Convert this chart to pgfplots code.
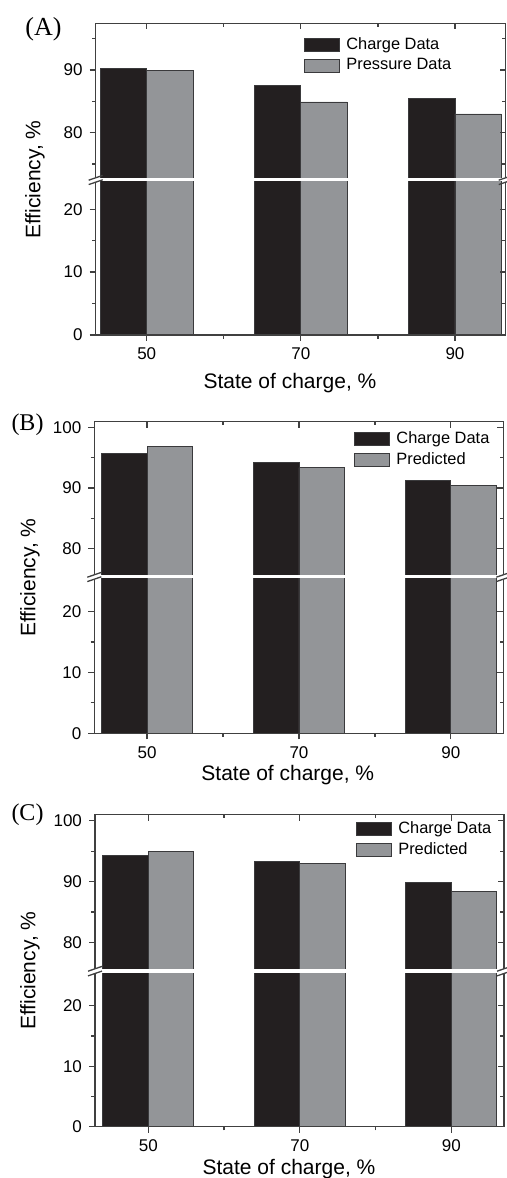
\documentclass[border=0pt]{standalone}
\usepackage{fontspec}
\setmainfont{Liberation Sans}
\newfontfamily\timesf{Liberation Serif}
\usepackage{pgfplots}
\usepackage{pgfplotstable}
\pgfplotsset{compat=1.18}

\definecolor{barblack}{HTML}{231F20}
\definecolor{bargray}{HTML}{939598}
\definecolor{edge}{HTML}{3A3A3C}
\definecolor{axisc}{HTML}{404040}

\pgfplotstableread{
x charge other
50 90.2 89.9
70 87.5 84.9
90 85.5 83.0
}\dataA
\pgfplotstableread{
x charge other
50 95.7 96.9
70 94.3 93.4
90 91.3 90.5
}\dataB
\pgfplotstableread{
x charge other
50 94.3 95.0
70 93.3 93.0
90 89.8 88.3
}\dataC

\tikzset{spine/.style={axisc, line width=0.65pt}}
\pgfplotsset{
  seg/.style={scale only axis, anchor=south west, axis line style={draw=none},
    clip mode=individual,
    tick style={axisc, line width=0.6pt}, major tick length=3pt, minor tick length=1.8pt,
    ticklabel style={font=\fontsize{8.5}{10}\selectfont},
    /pgf/number format/assume math mode=true},
  xt/.style={xtick={50,70,90}, minor xtick={60,80}},
  noxt/.style={xtick=\empty},
  mainseg/.style={seg, tick align=outside, ytick pos=left, xtick pos=bottom},
  overseg/.style={seg, tick align=inside, ytick pos=right, xtick pos=top,
    yticklabels={}, xticklabels={}},
  cbar/.style={ybar, bar width=6, bar shift=-3, fill=barblack, draw=edge, line width=0.4pt,
    legend image code/.code={\draw[##1] (0pt,-3.25pt) rectangle (17.5pt,3.25pt);}},
  obar/.style={ybar, bar width=6, bar shift=3, fill=bargray, draw=edge, line width=0.4pt,
    legend image code/.code={\draw[##1] (0pt,-3.25pt) rectangle (17.5pt,3.25pt);}},
  leg/.style={legend style={anchor=north west, draw=none, fill=none, inner sep=0pt,
    font=\fontsize{8.2}{9.6}\selectfont, row sep=0.6pt, column sep=1.8pt,
    nodes={inner sep=1.3pt}},
    legend cell align=left},
  panA/.style={width=205pt, xmin=43.38, xmax=96.58},
  panB/.style={width=204.5pt, xmin=43.06, xmax=96.9},
  panC/.style={width=204.5pt, xmin=42.96, xmax=96.96},
  upA/.style={height=77.25pt, ymin=72.78, ymax=97.42, ytick={80,90}, minor ytick={75,85,95}},
  loA/.style={height=76.5pt, ymin=0, ymax=24.32, ytick={0,10,20}, minor ytick={5,15}},
  upBC/.style={ymin=75.62, ymax=100.99, ytick={80,90,100}, minor ytick={85,95}},
  loBC/.style={ymin=0, ymax=25.37, ytick={0,10,20}, minor ytick={5,15}},
}

\newcommand\upperspine{%
  \draw[spine] (rel axis cs:0,0) -- (rel axis cs:0,1) -- (rel axis cs:1,1) -- (rel axis cs:1,0);
  \draw[spine] ([shift={(-3.5pt,-1.1pt)}]rel axis cs:0,0) -- ([shift={(3.5pt,1.3pt)}]rel axis cs:0,0);
  \draw[spine] ([shift={(-3.5pt,-1.1pt)}]rel axis cs:1,0) -- ([shift={(3.5pt,1.3pt)}]rel axis cs:1,0);}
\newcommand\lowerspine{%
  \draw[spine] (rel axis cs:0,1) -- (rel axis cs:0,0) -- (rel axis cs:1,0) -- (rel axis cs:1,1);
  \draw[spine] ([shift={(-3.5pt,-1.3pt)}]rel axis cs:0,1) -- ([shift={(3.5pt,1.1pt)}]rel axis cs:0,1);
  \draw[spine] ([shift={(-3.5pt,-1.3pt)}]rel axis cs:1,1) -- ([shift={(3.5pt,1.1pt)}]rel axis cs:1,1);}

\begin{document}
\begin{tikzpicture}
\useasboundingbox (0,0) rectangle (253.5pt,589pt);

% ---------------- Panel A ----------------
\begin{axis}[mainseg, panA, upA, noxt, at={(47.85pt,500pt)}, leg,
  legend style={at={(0.508,0.93)}}]
\addplot[cbar] table[x=x,y=charge]{\dataA}; \addlegendentry{Charge Data}
\addplot[obar] table[x=x,y=other]{\dataA}; \addlegendentry{Pressure Data}
\upperspine
\end{axis}
\begin{axis}[overseg, panA, upA, xt, at={(47.85pt,500pt)}]
\end{axis}
\begin{axis}[mainseg, panA, loA, xt, at={(47.85pt,421.5pt)}]
\addplot[cbar] table[x=x,y=charge]{\dataA};
\addplot[obar] table[x=x,y=other]{\dataA};
\lowerspine
\end{axis}
\begin{axis}[overseg, panA, loA, noxt, at={(47.85pt,421.5pt)}]
\end{axis}
\node[font=\timesf\fontsize{13}{15}\selectfont] at (21.75pt,574.5pt) {(A)};
\node[rotate=90, font=\fontsize{10.5}{12}\selectfont] at (17.5pt,499.25pt) {Efficiency, \%};
\node[anchor=base, font=\fontsize{10.5}{12}\selectfont] at (145pt,394.85pt) {State of charge, \%};

% ---------------- Panel B ----------------
\begin{axis}[mainseg, panB, upBC, height=76.65pt, noxt, at={(47.15pt,301.5pt)}, leg,
  legend style={at={(0.635,0.955)}}]
\addplot[cbar] table[x=x,y=charge]{\dataB}; \addlegendentry{Charge Data}
\addplot[obar] table[x=x,y=other]{\dataB}; \addlegendentry{Predicted}
\upperspine
\end{axis}
\begin{axis}[overseg, panB, upBC, height=76.65pt, xt, at={(47.15pt,301.5pt)}]
\end{axis}
\begin{axis}[mainseg, panB, loBC, height=77.15pt, xt, at={(47.15pt,222.35pt)}]
\addplot[cbar] table[x=x,y=charge]{\dataB};
\addplot[obar] table[x=x,y=other]{\dataB};
\lowerspine
\end{axis}
\begin{axis}[overseg, panB, loBC, height=77.15pt, noxt, at={(47.15pt,222.35pt)}]
\end{axis}
\node[font=\timesf\fontsize{12}{14}\selectfont] at (13.75pt,376.5pt) {(B)};
\node[rotate=90, font=\fontsize{10.5}{12}\selectfont] at (15pt,300.25pt) {Efficiency, \%};
\node[anchor=base, font=\fontsize{10.5}{12}\selectfont] at (143.9pt,198.65pt) {State of charge, \%};

% ---------------- Panel C ----------------
\begin{axis}[mainseg, panC, upBC, height=77.15pt, noxt, at={(47.5pt,104.5pt)}, leg,
  legend style={at={(0.638,0.975)}}]
\addplot[cbar] table[x=x,y=charge]{\dataC}; \addlegendentry{Charge Data}
\addplot[obar] table[x=x,y=other]{\dataC}; \addlegendentry{Predicted}
\upperspine
\end{axis}
\begin{axis}[overseg, panC, upBC, height=77.15pt, xt, at={(47.5pt,104.5pt)}]
\end{axis}
\begin{axis}[mainseg, panC, loBC, height=76.7pt, xt, at={(47.5pt,25.65pt)}]
\addplot[cbar] table[x=x,y=charge]{\dataC};
\addplot[obar] table[x=x,y=other]{\dataC};
\lowerspine
\end{axis}
\begin{axis}[overseg, panC, loBC, height=76.7pt, noxt, at={(47.5pt,25.65pt)}]
\end{axis}
\node[font=\timesf\fontsize{12}{14}\selectfont] at (13.75pt,181.5pt) {(C)};
\node[rotate=90, font=\fontsize{10.5}{12}\selectfont] at (15pt,103.65pt) {Efficiency, \%};
\node[anchor=base, font=\fontsize{10.5}{12}\selectfont] at (144.5pt,1.5pt) {State of charge, \%};
\end{tikzpicture}
\end{document}
